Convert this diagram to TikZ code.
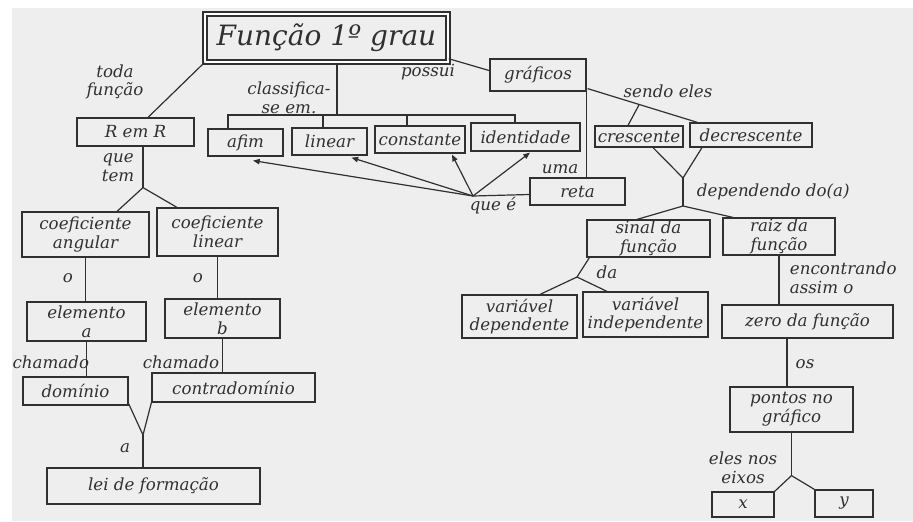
\documentclass[tikz,border=0pt]{standalone}
\usepackage{fontspec}
\setmainfont{DejaVu Serif}
\usetikzlibrary{calc,arrows.meta}
\definecolor{paper}{HTML}{EEEEEE}
\definecolor{ink}{HTML}{303030}
\newcommand\hwfont{\fontsize{12.5}{14}\selectfont\itshape}
\newcommand\hwtitle{\fontsize{21}{24}\selectfont\itshape}
\begin{document}
\begin{tikzpicture}[x=0.75pt,y=-0.75pt,color=ink,line width=0.9pt,
  box/.style={draw, rectangle, inner sep=0pt, align=center, font=\hwfont},
  sz/.style 2 args={minimum width=#1*0.75pt, minimum height=#2*0.75pt},
  lbl/.style={inner sep=1pt, align=center, font=\hwfont},
  tip/.style={-{Triangle[length=5pt,width=4pt]}}]
\useasboundingbox (0,0) rectangle (913,521);
\fill[white] (0,0) rectangle (913,521);
\fill[paper] (12,8) rectangle (913,521);

% concept boxes
\node[box, double, double distance=1.6pt, line width=1.1pt, font=\hwtitle, sz={243}{48}] (title) at (326.5,38) {Função 1º grau};
\node[box, sz={117}{28}] (rr) at (135.5,132) {R em R};
\node[box, sz={75}{27}] (afim) at (245.5,142.5) {afim};
\node[box, sz={75}{27}] (linear) at (329.5,141.5) {linear};
\node[box, sz={90}{27}] (constante) at (420,139.5) {constante};
\node[box, sz={109}{28}] (identidade) at (525.5,137) {identidade};
\node[box, sz={96}{32}] (graficos) at (538,75) {gráficos};
\node[box, sz={95}{27}] (reta) at (577.5,191.5) {reta};
\node[box, sz={88}{21}] (crescente) at (639,136.5) {crescente};
\node[box, sz={122}{24}] (decrescente) at (751,135) {decrescente};
\node[box, sz={123}{37}] (sinal) at (648.5,238.5) {sinal da\\função};
\node[box, sz={112}{37}] (raiz) at (779,236.5) {raiz da\\função};
\node[box, sz={115}{43}] (vdep) at (519.5,316.5) {variável\\dependente};
\node[box, sz={125}{45}] (vind) at (645.5,314.5) {variável\\independente};
\node[box, sz={171}{33}] (zero) at (807.5,321.5) {zero da função};
\node[box, sz={123}{45}] (pontos) at (791.5,409.5) {pontos no\\gráfico};
\node[box, sz={62}{25}] (xbox) at (743,504.5) {x};
\node[box, sz={58}{27}] (ybox) at (844,503.5) {y};
\node[box, sz={127}{45}] (coefang) at (85.5,234.5) {coeficiente\\angular};
\node[box, sz={121}{48}] (coeflin) at (217.5,232) {coeficiente\\linear};
\node[box, sz={119}{39}] (elema) at (86.5,321.5) {elemento\\a};
\node[box, sz={115}{39}] (elemb) at (222.5,318.5) {elemento\\b};
\node[box, sz={105}{28}] (dominio) at (75.5,391) {domínio};
\node[box, sz={163}{29}] (contra) at (233.5,387.5) {contradomínio};
\node[box, sz={213}{36}] (lei) at (153.5,486) {lei de formação};

% linking words
\node[lbl] (ltoda) at (115,82) {toda\\função};
\node[lbl] (lclass) at (289,98) {classifica-\\se em.};
\node[lbl] (lpossui) at (428,72) {possui};
\node[lbl] (luma) at (560,169) {uma};
\node[lbl] (lquee) at (493,206) {que é};
\node[lbl] (lsendo) at (668,91) {sendo eles};
\node[lbl, anchor=west] (ldep) at (695,192) {dependendo do(a)};
\node[lbl] (lda) at (607,272) {da};
\node[lbl, anchor=west, align=left] (lencon) at (788,278) {encontrando\\assim o};
\node[lbl] (los) at (805,364) {os};
\node[lbl] (leixos) at (743,468) {eles nos\\eixos};
\node[lbl] (lquetem) at (118,168) {que\\tem};
\node[lbl] (lo1) at (68,278) {o};
\node[lbl] (lo2) at (198,278) {o};
\node[lbl, anchor=east] (lcham1) at (91,362) {chamado};
\node[lbl] (lcham2) at (181,362) {chamado};
\node[lbl] (la) at (125,448) {a};

% title to R em R
\draw (title.south west) -- ($(rr.north)+(12.5,0)$);

% classification bracket
\coordinate (cj) at (337,115);
\coordinate (cl) at (228,115);
\coordinate (cr) at (515,115);
\coordinate (c2) at (323,115);
\coordinate (c3) at (407,115);
\draw (title.south -| cj) -- (cj);
\draw (cl |- afim.north) -- (cl) -- (cr) -- (cr |- identidade.north);
\draw (c2) -- (c2 |- linear.north);
\draw (c3) -- (c3 |- constante.north);

% title to graphs
\draw ($(title.south east)+(0,-4)$) -- ($(graficos.south west)+(0,-21)$);
\draw (graficos.south east) -- (graficos.south east |- reta.north);

% graphs: increasing / decreasing
\coordinate (g1) at ($(graficos.south east)+(1,-3)$);
\coordinate (d1) at ($(decrescente.north west)+(8,0)$);
\draw (g1) -- (d1);
\draw ($(g1)!0.47!(d1)$) -- ($(crescente.north)+(-11,0)$);
\coordinate (j2) at (683,178);
\coordinate (j3) at (683,206);
\draw ($(crescente.south)+(14,0)$) -- (j2) -- ($(decrescente.south)+(-49,0)$);
\draw (j2) -- (j3);
\draw ($(sinal.north)+(-11.5,0)$) -- (j3) -- ($(raiz.north)+(-46,0)$);

% sign of the function
\coordinate (j4) at (577,277);
\draw ($(sinal.south west)+(3,0)$) -- (j4);
\draw ($(vdep.north)+(20.5,0)$) -- (j4) -- ($(vind.north)+(-38.5,0)$);

% root of the function
\draw (raiz.south) -- (raiz.south |- zero.north);
\coordinate (zx) at (787,338);
\draw (zx) -- (zx |- pontos.north);
\coordinate (j5) at ($(pontos.south)+(0,43)$);
\draw (pontos.south) -- (j5);
\draw (xbox.north east) -- (j5) -- (ybox.north west);

% left branch
\coordinate (j6) at ($(rr.south)+(7.5,41)$);
\draw ($(rr.south)+(7.5,0)$) -- (j6);
\draw ($(coefang.north)+(31.5,0)$) -- (j6) -- ($(coeflin.north)+(-40.5,0)$);
\draw (coefang.south) -- (coefang.south |- elema.north);
\draw (coeflin.south) -- (coeflin.south |- elemb.north);
\draw (elema.south) -- (elema.south |- dominio.north);
\draw (elemb.south) -- (elemb.south |- contra.north);
\coordinate (j7) at (143,435);
\draw ($(dominio.south east)+(0,-2)$) -- (j7) -- (contra.south west);
\draw (j7) -- (j7 |- lei.north);

% the line is each type
\coordinate (q) at (473,196);
\draw ($(reta.west)+(0,3)$) -- (q);
\draw[tip] (q) -- ($(afim.south)+(7.5,4)$);
\draw[tip] (q) -- ($(linear.south)+(22,2)$);
\draw[tip] (q) -- ($(constante.south)+(32,1)$);
\draw[tip] (q) -- ($(identidade.south)+(4.5,1)$);
\end{tikzpicture}
\end{document}
